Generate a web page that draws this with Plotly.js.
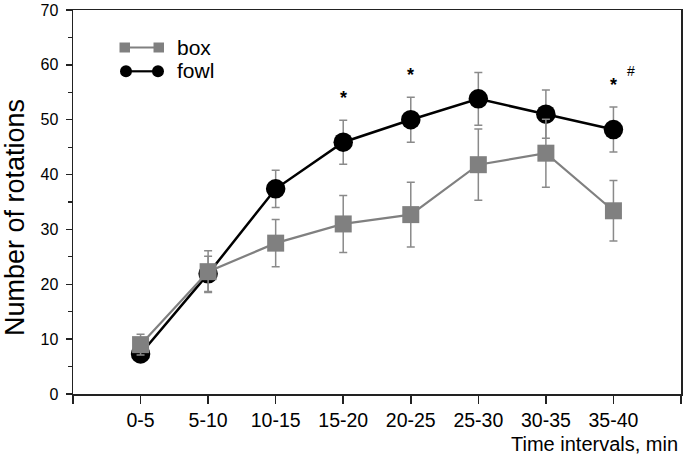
<!DOCTYPE html>
<html>
<head>
<meta charset="utf-8">
<script src="https://cdn.plot.ly/plotly-3.0.1.min.js"></script>
<style>html,body{margin:0;padding:0;background:#fff;}#chart{width:685px;height:456px;}</style>
</head>
<body>
<div id="chart"></div>
<script>
const categories = ['0-5','5-10','10-15','15-20','20-25','25-30','30-35','35-40'];
const boxMean = [9.0, 22.3, 27.5, 31.0, 32.7, 41.8, 43.9, 33.4];
const boxErr  = [1.9, 3.8, 4.3, 5.2, 5.9, 6.5, 6.2, 5.5];
const fowlMean = [7.3, 21.9, 37.4, 45.9, 50.0, 53.8, 51.0, 48.2];
const fowlErr  = [1.0, 3.2, 3.4, 4.0, 4.1, 4.8, 4.4, 4.1];
const starCats = ['15-20','20-25','35-40'];
const hashCats = ['35-40'];
const yTicks = [0,10,20,30,40,50,60,70];

const xIdx = categories.map((c,i)=>i);
const font = 'Liberation Sans, Arial, sans-serif';

const fowl = {
  x: xIdx, y: fowlMean, type: 'scatter', mode: 'lines+markers', name: 'fowl',
  line: {color: '#000', width: 2.5},
  marker: {symbol: 'circle', size: 19.5, color: '#000'},
  error_y: {type: 'data', array: fowlErr, visible: true, color: '#8a8a8a', thickness: 1.5, width: 4},
  showlegend: false
};
const box = {
  x: xIdx, y: boxMean, type: 'scatter', mode: 'lines+markers', name: 'box',
  line: {color: '#808080', width: 2.2},
  marker: {symbol: 'square', size: 17, color: '#808080'},
  error_y: {type: 'data', array: boxErr, visible: true, color: '#8a8a8a', thickness: 1.5, width: 4},
  showlegend: false
};

const tickvals = [-1].concat(xIdx).concat([categories.length]);
const ticktext = [''].concat(categories).concat(['']);

const L = 73, R = 4, T = 10, B = 62, W = 685, H = 456;
const pw = W - L - R, ph = H - T - B;
function px(x){ return (x - L) / pw; }
function py(y){ return 1 - (y - T) / ph; }

const annotations = [];
starCats.forEach(c => {
  const i = categories.indexOf(c);
  annotations.push({x: i, y: fowlMean[i] + fowlErr[i], xref: 'x', yref: 'y', text: '<b>*</b>',
    showarrow: false, yshift: 22, font: {family: font, size: 18, color: '#000'}});
});
hashCats.forEach(c => {
  const i = categories.indexOf(c);
  annotations.push({x: i, y: fowlMean[i] + fowlErr[i], xref: 'x', yref: 'y', text: '#',
    showarrow: false, xshift: 18, yshift: 36, font: {family: font, size: 14, color: '#000'}});
});
annotations.push({x: 1, y: 0, xref: 'paper', yref: 'paper', xanchor: 'right', yanchor: 'top',
  yshift: -37, xshift: -1, text: 'Time intervals, min', showarrow: false,
  font: {family: font, size: 20, color: '#000'}});
annotations.push({x: px(14.5), y: py(217.5), xref: 'paper', yref: 'paper', xanchor: 'center', yanchor: 'middle',
  textangle: -90, text: 'Number of rotations', showarrow: false,
  font: {family: font, size: 27, color: '#000'}});
// legend labels
annotations.push({x: px(175), y: py(47.5), xref: 'paper', yref: 'paper', text: 'box', showarrow: false, xanchor: 'left', yanchor: 'middle', font: {family: font, size: 21, color: '#000'}});
annotations.push({x: px(175), y: py(71), xref: 'paper', yref: 'paper', text: 'fowl', showarrow: false, xanchor: 'left', yanchor: 'middle', font: {family: font, size: 21, color: '#000'}});

const shapes = [
  {type:'line', xref:'paper', yref:'paper', x0:px(125), x1:px(158), y0:py(47.5), y1:py(47.5), line:{color:'#808080', width:2}},
  {type:'rect', xref:'paper', yref:'paper', x0:px(119.5), x1:px(130), y0:py(42.5), y1:py(52.5), fillcolor:'#808080', line:{width:0}},
  {type:'rect', xref:'paper', yref:'paper', x0:px(153.5), x1:px(164), y0:py(42.5), y1:py(52.5), fillcolor:'#808080', line:{width:0}},
  {type:'line', xref:'paper', yref:'paper', x0:px(126), x1:px(158), y0:py(71.3), y1:py(71.3), line:{color:'#000', width:2.2}},
  {type:'circle', xref:'paper', yref:'paper', x0:px(120), x1:px(132), y0:py(65.3), y1:py(77.3), fillcolor:'#000', line:{width:0}},
  {type:'circle', xref:'paper', yref:'paper', x0:px(152), x1:px(164), y0:py(65.3), y1:py(77.3), fillcolor:'#000', line:{width:0}}
];

const layout = {
  width: W, height: H,
  margin: {l: L, r: R, t: T, b: B, pad: 0},
  paper_bgcolor: '#fff', plot_bgcolor: '#fff',
  font: {family: font, color: '#000'},
  showlegend: false,
  xaxis: {
    range: [-1, categories.length], tickvals: tickvals, ticktext: ticktext,
    showgrid: false, zeroline: false, showline: true, linecolor: '#222', linewidth: 1.5,
    mirror: true, ticks: 'outside', ticklen: 8, tickwidth: 1.5, tickcolor: '#222',
    tickfont: {family: font, size: 19.5, color: '#000'}, fixedrange: true
  },
  yaxis: {
    range: [0, 70], tickvals: yTicks, showgrid: false, zeroline: false,
    showline: true, linecolor: '#222', linewidth: 1.5, mirror: true,
    ticks: 'outside', ticklen: 6, tickwidth: 1.5, tickcolor: '#222',
    minor: {dtick: 5, tick0: 0, ticks: 'outside', ticklen: 3.5, tickwidth: 1.2, tickcolor: '#222'},
    tickfont: {family: font, size: 16, color: '#000'},
    ticklabelstandoff: 4
  },
  annotations: annotations,
  shapes: shapes
};

Plotly.newPlot('chart', [fowl, box], layout, {staticPlot: true});
</script>
</body>
</html>
